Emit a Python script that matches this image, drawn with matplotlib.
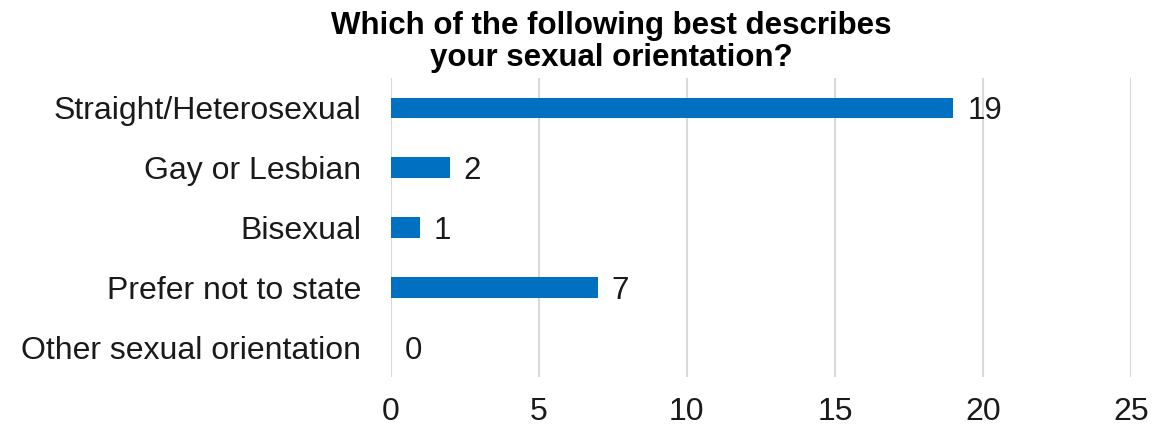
import matplotlib.pyplot as plt

plt.rcParams['font.family'] = ['Liberation Sans', 'DejaVu Sans']

categories = ['Straight/Heterosexual', 'Gay or Lesbian', 'Bisexual',
              'Prefer not to state', 'Other sexual orientation']
counts = [19, 2, 1, 7, 0]
xticks = [0, 5, 10, 15, 20, 25]

fig = plt.figure(figsize=(11.52, 4.29), dpi=100)
ax = fig.add_axes([0.339, 0.121, 0.643, 0.697])

ypos = list(range(len(categories)))
ax.barh(ypos, counts, height=0.35, color='#0070C0', zorder=3)
for y, v in zip(ypos, counts):
    ax.annotate(str(v), (v, y), xytext=(10, 0), textcoords='offset points',
                va='center_baseline', ha='left', fontsize=22.5, color='#1a1a1a')

ax.set_xlim(0, 25)
ax.set_ylim(4.5, -0.5)
ax.set_xticks(xticks)
ax.set_yticks(ypos)
ax.set_yticklabels(categories)
ax.tick_params(axis='y', length=0, pad=21, labelsize=23, labelcolor='#1a1a1a')
ax.tick_params(axis='x', length=0, pad=14, labelsize=23, labelcolor='#1a1a1a')
ax.grid(axis='x', color='#d9d9d9', linewidth=1.5, zorder=0)
for s in ax.spines.values():
    s.set_visible(False)

fig.text(0.531, 0.975, 'Which of the following best describes\nyour sexual orientation?',
         ha='center', va='top', fontsize=22.5, fontweight='bold', linespacing=1.08)

fig.savefig('out.png', dpi=100)
